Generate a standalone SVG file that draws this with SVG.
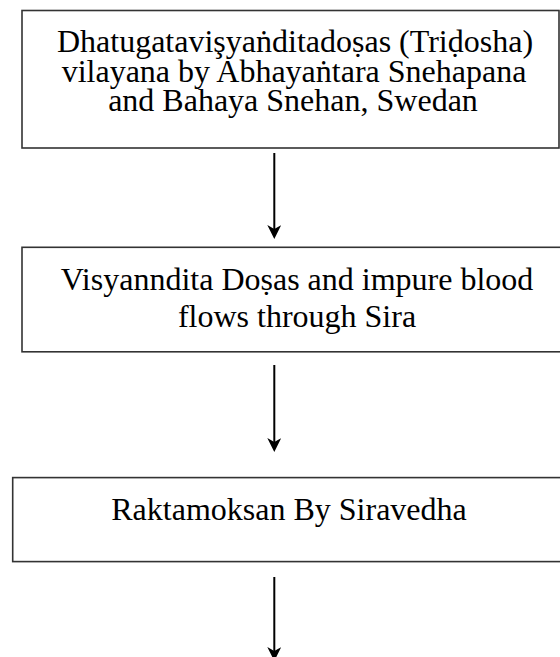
<svg xmlns="http://www.w3.org/2000/svg" width="560" height="657" viewBox="0 0 560 657">
<style>
.box{fill:#fff;stroke:#333;stroke-width:1.6}
.t{font-family:"Liberation Serif","Times New Roman",serif;font-size:32px;fill:#000;text-anchor:middle}
.c{stroke:#000;stroke-width:2;fill:none}
</style>
<defs>
<marker id="ah" markerUnits="userSpaceOnUse" viewBox="0 0 14 14" markerWidth="14" markerHeight="14" refX="4" refY="7" orient="auto">
<path d="M0,0 L14,7 L0,14 L4,7 Z" fill="#000"/>
</marker>
</defs>
<rect width="560" height="657" fill="#fff"/>
<g id="node1">
<rect class="box" x="22" y="10.5" width="537" height="137.5"/>
<text class="t" x="295" y="52">Dhatugatavişyaṅditadoṣas (Triḍosha)</text>
<text class="t" x="294" y="81.5">vilayana by Abhayaṅtara Snehapana</text>
<text class="t" x="293" y="111">and Bahaya Snehan, Swedan</text>
</g>
<g id="node2">
<rect class="box" x="22" y="247.3" width="560" height="104.5"/>
<text class="t" x="297" y="290">Visyanndita Doṣas and impure blood</text>
<text class="t" x="297" y="327">flows through Sira</text>
</g>
<g id="node3">
<rect class="box" x="12.7" y="477.6" width="560" height="84"/>
<text class="t" x="289" y="520">Raktamoksan By Siravedha</text>
</g>
<g id="connectors">
<line class="c" x1="274.3" y1="153" x2="274.3" y2="229" marker-end="url(#ah)"/>
<line class="c" x1="274.3" y1="365" x2="274.3" y2="442" marker-end="url(#ah)"/>
<line class="c" x1="274.3" y1="577" x2="274.3" y2="651" marker-end="url(#ah)"/>
</g>
</svg>
